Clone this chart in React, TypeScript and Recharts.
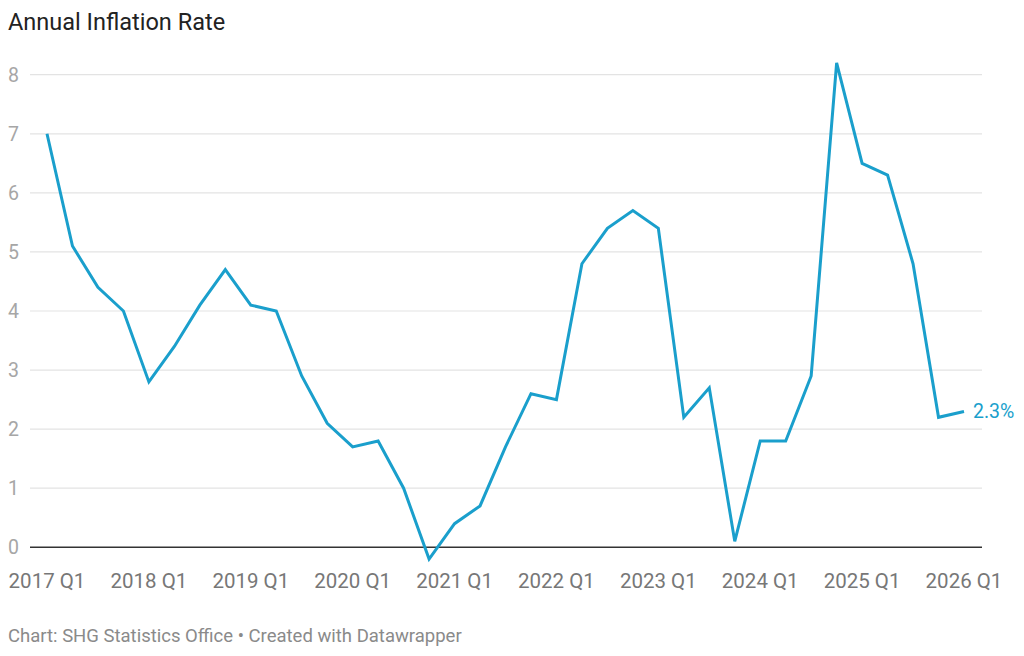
import React from "react";
import { LineChart, Line, XAxis, YAxis, ReferenceLine, LabelList } from "recharts";

const quarters = [
  "2017 Q1","2017 Q2","2017 Q3","2017 Q4",
  "2018 Q1","2018 Q2","2018 Q3","2018 Q4",
  "2019 Q1","2019 Q2","2019 Q3","2019 Q4",
  "2020 Q1","2020 Q2","2020 Q3","2020 Q4",
  "2021 Q1","2021 Q2","2021 Q3","2021 Q4",
  "2022 Q1","2022 Q2","2022 Q3","2022 Q4",
  "2023 Q1","2023 Q2","2023 Q3","2023 Q4",
  "2024 Q1","2024 Q2","2024 Q3","2024 Q4",
  "2025 Q1","2025 Q2","2025 Q3","2025 Q4",
  "2026 Q1",
];

const inflation = [
  7.0, 5.1, 4.4, 4.0,
  2.8, 3.4, 4.1, 4.7,
  4.1, 4.0, 2.9, 2.1,
  1.7, 1.8, 1.0, -0.2,
  0.4, 0.7, 1.7, 2.6,
  2.5, 4.8, 5.4, 5.7,
  5.4, 2.2, 2.7, 0.1,
  1.8, 1.8, 2.9, 8.2,
  6.5, 6.3, 4.8, 2.2,
  2.3,
];

const yTicks = [0, 1, 2, 3, 4, 5, 6, 7, 8];
const gridValues = [1, 2, 3, 4, 5, 6, 7, 8];

const data = quarters.map((q, i) => ({ quarter: q, value: inflation[i] }));

const BLUE = "#1a9fcc";
const FONT = "Roboto, 'Noto Sans', sans-serif";

const YTick = (props: any) => {
  const { y, payload } = props;
  return (
    <text x={8} y={y} dy={7} textAnchor="start" fill="#a6a6a6" fontSize={19.5} fontFamily={FONT}>
      {payload.value}
    </text>
  );
};

const XTick = (props: any) => {
  const { x, y, payload } = props;
  return (
    <text x={x} y={y} dy={15} textAnchor="middle" fill="#777777" fontSize={20.5} fontFamily={FONT}>
      {payload.value}
    </text>
  );
};

const EndLabel = (props: any) => {
  const { x, y, index, value } = props;
  if (index !== data.length - 1) return null;
  return (
    <text x={x + 9} y={y} dy={7} textAnchor="start" fill={BLUE} fontSize={19.5} fontFamily={FONT}>
      {`${value}%`}
    </text>
  );
};

export default function App() {
  return (
    <div style={{ position: "absolute", left: 0, top: 0, width: 1024, height: 656, background: "#fff", fontFamily: FONT }}>
      <div style={{ position: "absolute", left: 8, top: 7, fontSize: 23.5, color: "#222", lineHeight: "30px" }}>
        Annual Inflation Rate
      </div>
      <LineChart
        width={1024}
        height={656}
        data={data}
        margin={{ top: 57, right: 42, bottom: 61, left: 0 }}
      >
        <XAxis
          dataKey="quarter"
          interval={3}
          axisLine={false}
          tickLine={false}
          tick={<XTick />}
          height={30}
          padding={{ left: 17, right: 18 }}
        />
        <YAxis
          domain={[-0.3, 8.3]}
          ticks={yTicks}
          axisLine={false}
          tickLine={false}
          width={30}
          tick={<YTick />}
        />
        {gridValues.map((v) => (
          <ReferenceLine key={v} y={v} stroke="#e3e3e3" strokeWidth={1.2} />
        ))}
        <ReferenceLine y={0} stroke="#333" strokeWidth={1.6} />
        <Line
          type="linear"
          dataKey="value"
          stroke={BLUE}
          strokeWidth={3}
          dot={false}
          isAnimationActive={false}
        >
          <LabelList dataKey="value" content={<EndLabel />} />
        </Line>
      </LineChart>
      <div style={{ position: "absolute", left: 8, top: 623, fontSize: 18.5, color: "#8a8a8a", lineHeight: "26px" }}>
        Chart: SHG Statistics Office • Created with Datawrapper
      </div>
    </div>
  );
}
